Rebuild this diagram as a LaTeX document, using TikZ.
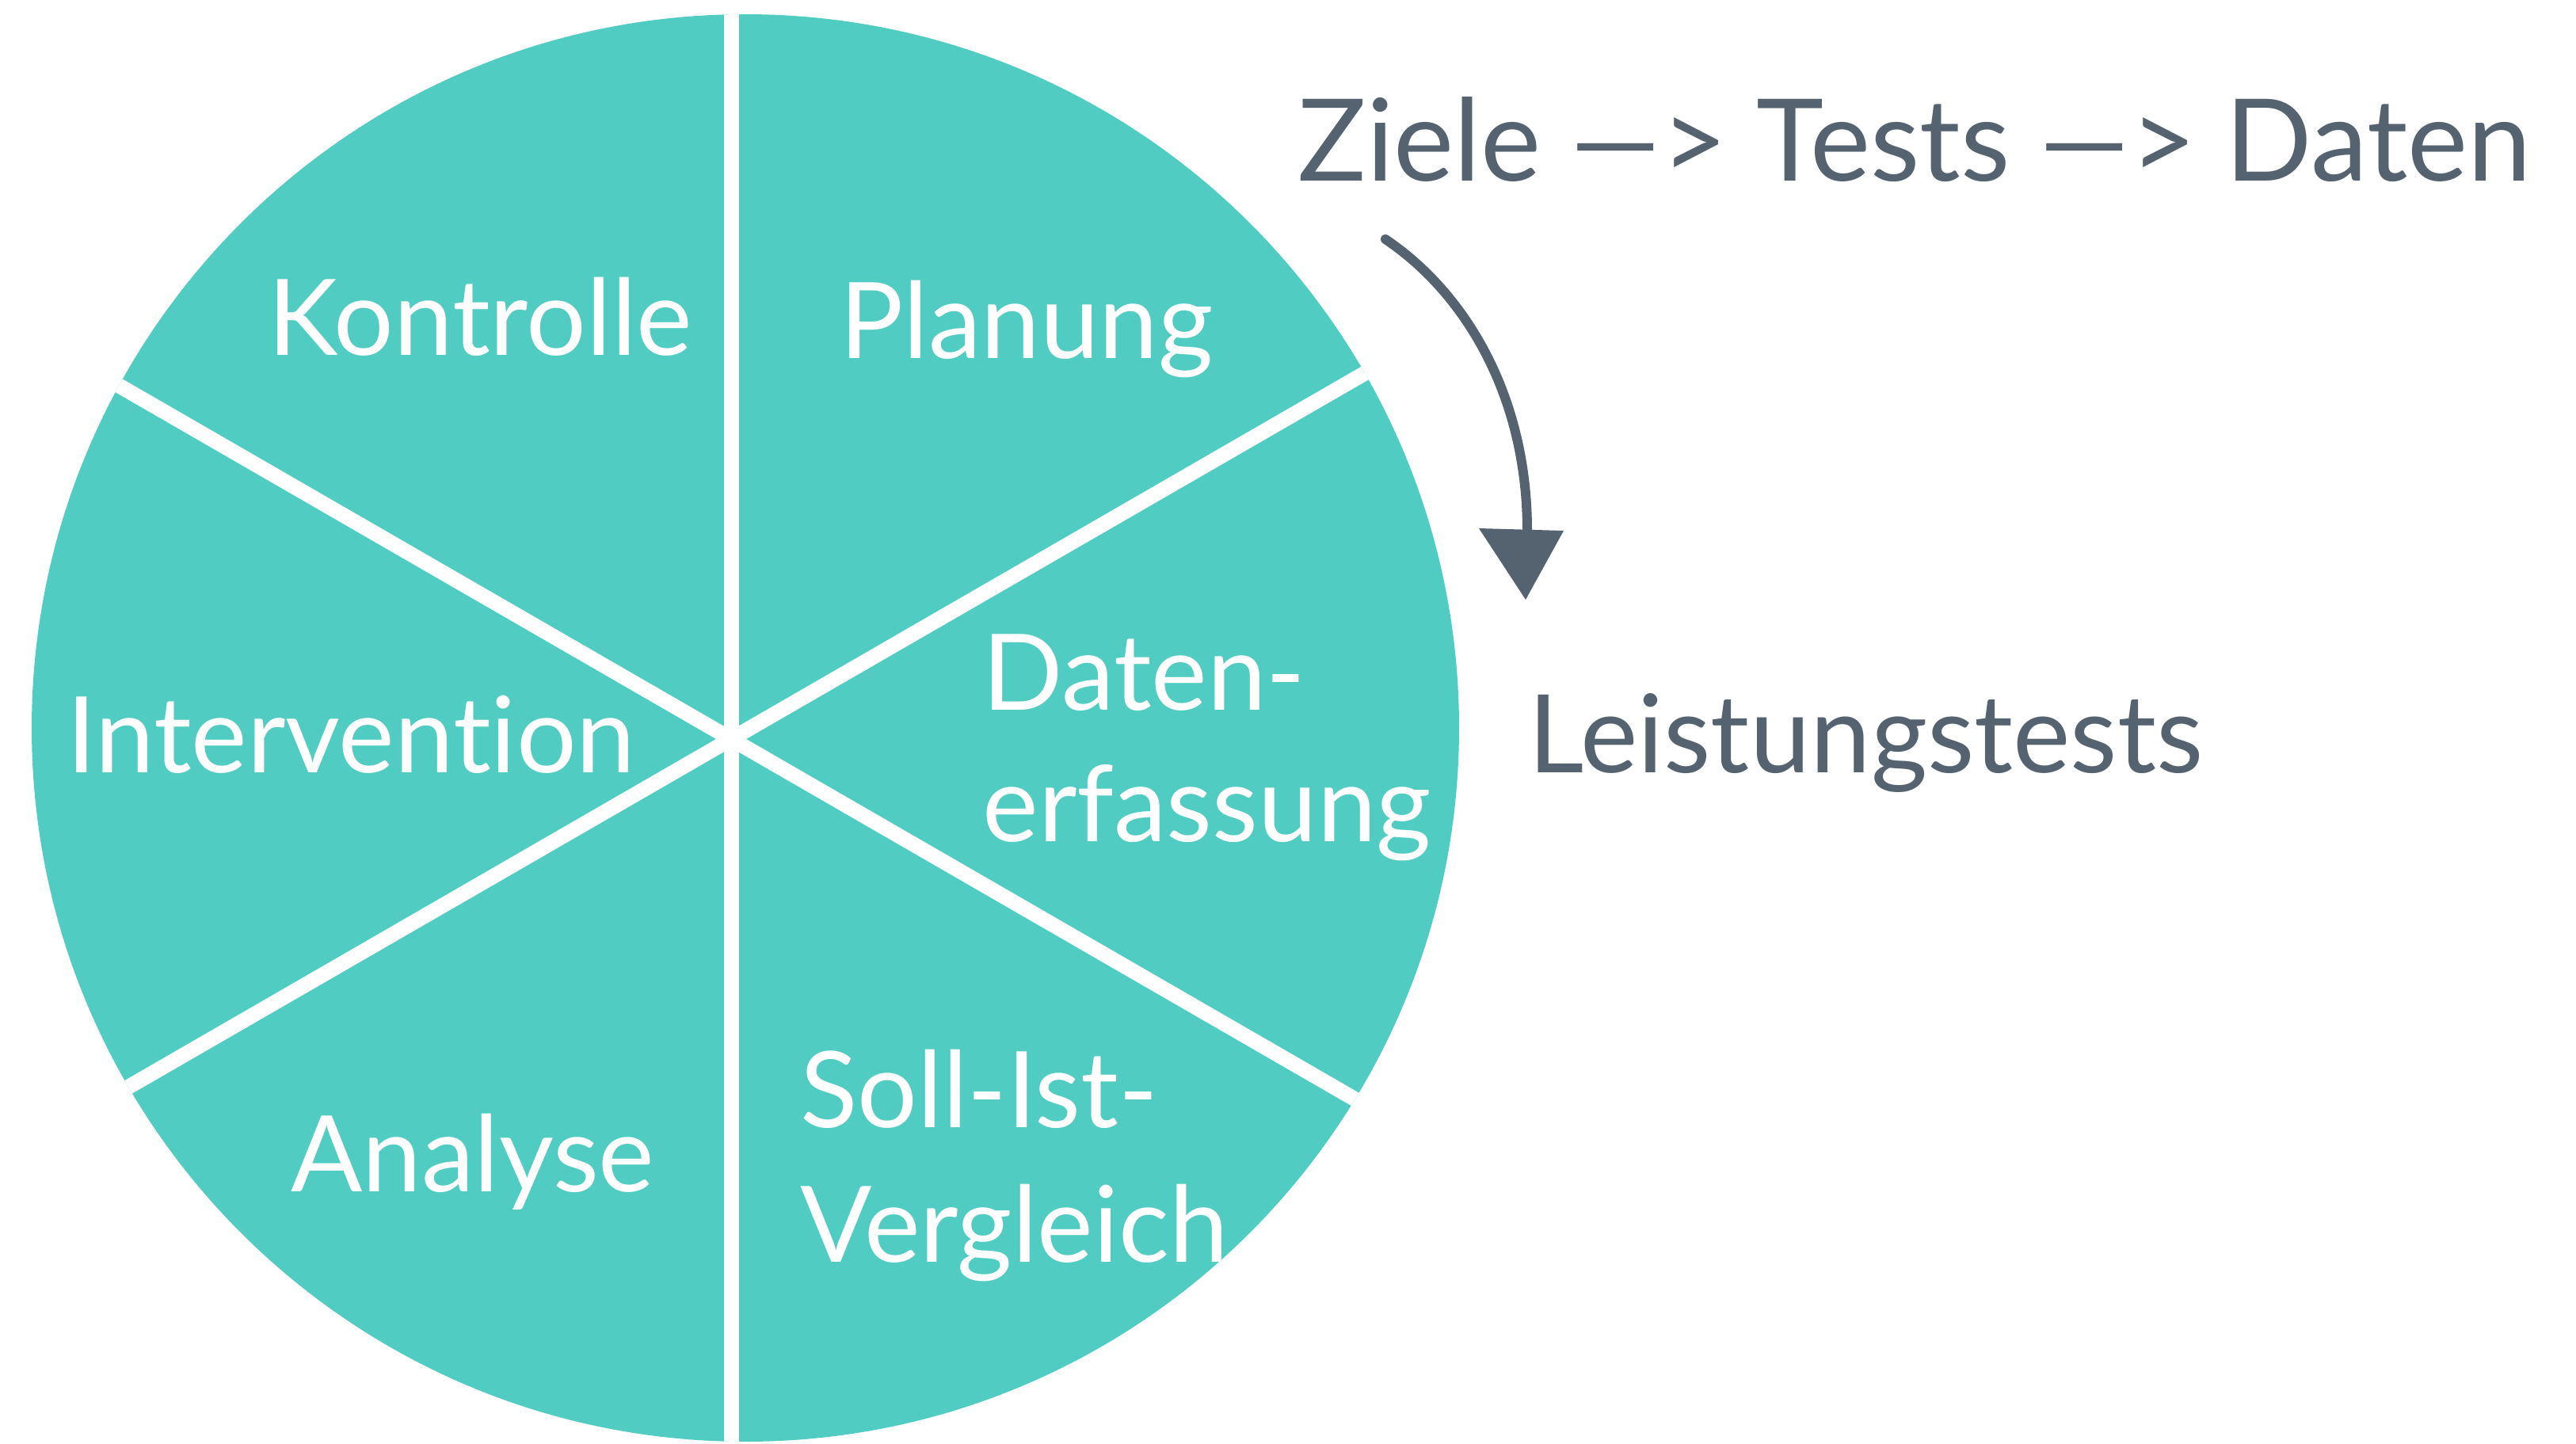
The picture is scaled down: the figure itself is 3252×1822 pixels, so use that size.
\documentclass[tikz,border=0pt]{standalone}
\usepackage{fontspec}
\setmainfont{Lato}[Ligatures=NoCommon]
\usetikzlibrary{calc}
\definecolor{wheelteal}{HTML}{50CCC3}
\definecolor{ink}{HTML}{55626F}
\begin{document}
\begin{tikzpicture}[x=0.1mm,y=-0.1mm,
  lbl/.style={text=white,inner sep=0pt,font=\fontsize{38}{42}\selectfont},
  rtxt/.style={text=ink,inner sep=0pt,font=\fontsize{40}{46}\selectfont},
  sepline/.style={white,line width=1.9mm},
  arrowline/.style={ink,line width=1.2mm,line cap=round}]
\useasboundingbox (0,0) rectangle (3252,1822);
\node[circle,fill=wheelteal,minimum size=180.2mm,inner sep=0pt] (wheel) at (941,919) {};
\coordinate (hub) at (923,933);
\begin{scope}
  \clip (wheel.center) circle (90.1mm);
  \foreach \a in {30,90,150,210,270,330}{
    \draw[sepline] (hub) -- ++(\a:110mm);
  }
\end{scope}
\node[lbl,anchor=base] (kon) at (606,448) {Kontrolle};
\node[lbl,anchor=base] (pla) at (1296,452) {Planung};
\node[lbl,anchor=base] (int) at (443,975) {Intervention};
\node[lbl,anchor=base west] (dat1) at (1240,896) {Daten-};
\node[lbl,anchor=base west] (dat2) at (1240,1062) {erfassung};
\node[lbl,anchor=base west] (soll1) at (1010,1423) {Soll-Ist-};
\node[lbl,anchor=base west] (soll2) at (1010,1593) {Vergleich};
\node[lbl,anchor=base] (ana) at (597,1504) {Analyse};
\node[rtxt,anchor=base west,font=\fontsize{41}{46}\selectfont] (chain) at (1638,228) {Ziele —> Tests —> Daten};
\node[rtxt,anchor=base west,font=\fontsize{39}{46}\selectfont] (leist) at (1929,975) {Leistungstests};
\coordinate (arrS) at (1749,302);
\coordinate (arrE) at (1928,670);
\draw[arrowline] (arrS) .. controls (1850,370) and (1928,500) .. (arrE);
\fill[ink] (1867,667) -- (1974,670) -- (1926,757) -- cycle;
\end{tikzpicture}
\end{document}
